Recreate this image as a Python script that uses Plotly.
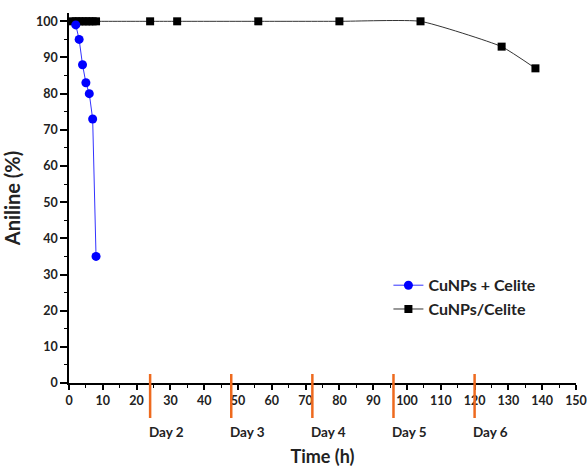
import plotly.graph_objects as go

# Data
blue_t = [2, 3, 4, 5, 6, 7, 8]
blue_y = [99, 95, 88, 83, 80, 73, 35]
black_t = [1, 2, 3, 4, 5, 6, 7, 8, 24, 32, 56, 80, 104, 128, 138]
black_y = [100, 100, 100, 100, 100, 100, 100, 100, 100, 100, 100, 100, 100, 93, 87]
day_hours = [24, 48, 72, 96, 120]
day_labels = ["Day 2", "Day 3", "Day 4", "Day 5", "Day 6"]

FONT = "Lato"
fig = go.Figure()
fig.add_trace(go.Scatter(
    x=black_t, y=black_y, mode="lines+markers", name="CuNPs/Celite",
    line=dict(color="#333333", width=1, shape="spline", smoothing=0.45),
    marker=dict(symbol="square", size=8, color="black"),
    cliponaxis=False,
))
fig.add_trace(go.Scatter(
    x=blue_t, y=blue_y, mode="lines+markers", name="CuNPs + Celite",
    line=dict(color="#3333ff", width=1),
    marker=dict(symbol="circle", size=9, color="#0000ff"),
    cliponaxis=False,
))

H = 370.0  # plot height px
for h, lab in zip(day_hours, day_labels):
    fig.add_shape(type="line", xref="x", yref="paper", x0=h, x1=h,
                  y0=(383 - 374) / H, y1=(383 - 418) / H,
                  line=dict(color="#EE6A1E", width=2.5))
    fig.add_annotation(x=h - 1, xref="x", y=(383 - 432) / H, yref="paper",
                       text=lab, showarrow=False, xanchor="left", yanchor="middle",
                       font=dict(family=FONT, size=13.5, color="#222", weight="bold"))

fig.update_layout(
    width=587, height=467,
    margin=dict(l=69, r=11, t=13, b=84),
    plot_bgcolor="white", paper_bgcolor="white",
    font=dict(family=FONT, color="#222", weight="bold"),
    showlegend=True,
    legend=dict(x=0.63, y=0.31, xanchor="left", yanchor="top",
                font=dict(family=FONT, size=16, color="#222", weight="bold"),
                traceorder="reversed", bgcolor="rgba(0,0,0,0)", tracegroupgap=4),
    xaxis=dict(range=[0, 150], tick0=0, dtick=10, showgrid=False, zeroline=False,
               automargin=False,
               showline=True, linecolor="black", linewidth=1.5,
               ticks="outside", ticklen=5, tickwidth=1.5, tickcolor="black",
               tickfont=dict(family=FONT, size=12.5, color="#222", weight="bold"),
               minor=dict(dtick=5, ticks="outside", ticklen=3, tickwidth=1, tickcolor="black"),
               title=dict(text="Time (h)", standoff=52,
                          font=dict(family=FONT, size=18, color="#222", weight="bold"))),
    yaxis=dict(range=[0, 102.3], tick0=0, dtick=10, showgrid=False, zeroline=False,
               automargin=False,
               showline=True, linecolor="black", linewidth=1.5,
               ticks="outside", ticklen=7, tickwidth=1.5, tickcolor="black",
               tickfont=dict(family=FONT, size=12.5, color="#222", weight="bold"),
               minor=dict(dtick=5, ticks="outside", ticklen=3, tickwidth=1, tickcolor="black"),
               title=dict(text="Aniline (%)", standoff=10,
                          font=dict(family=FONT, size=20, color="#222", weight="bold"))),
)
fig.write_html("out.html")
